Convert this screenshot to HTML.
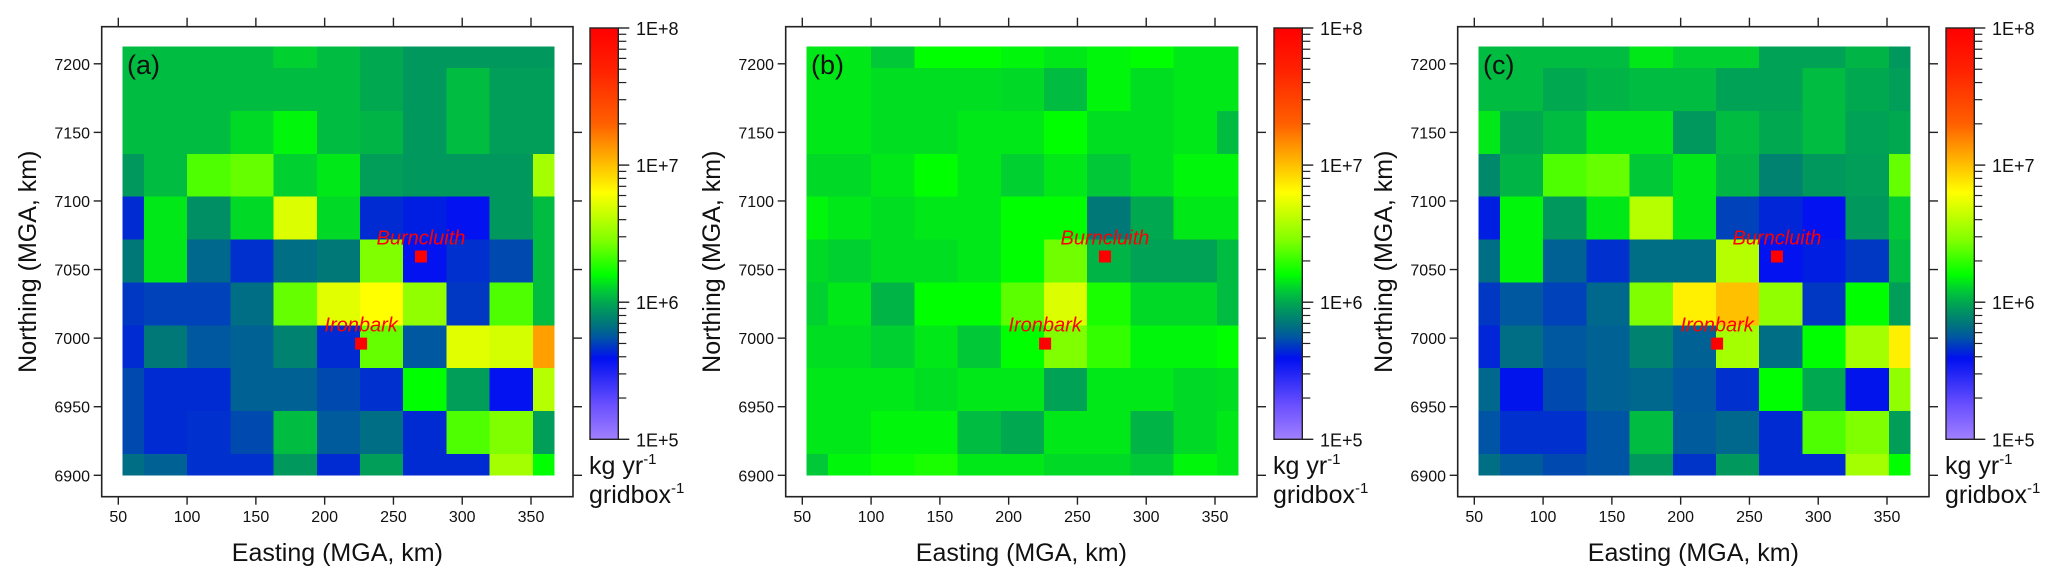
<!DOCTYPE html>
<html><head><meta charset="utf-8"><style>
html,body{margin:0;padding:0;background:#fff}
svg{display:block;font-family:"Liberation Sans",Arial,sans-serif}
</style></head><body>
<svg id="chart" width="2067" height="586" viewBox="0 0 2067 586" xmlns="http://www.w3.org/2000/svg">
<defs>
<linearGradient id="cbgrad" x1="0" y1="1" x2="0" y2="0"></linearGradient>
</defs>
</svg>
<script>
const panelLabels = ["(a)", "(b)", "(c)"];
const xTicks = [50, 100, 150, 200, 250, 300, 350];
const yTicks = [6900, 6950, 7000, 7050, 7100, 7150, 7200];
const cbTickLabels = ["1E+5", "1E+6", "1E+7", "1E+8"];
const cbDecades = [5, 6, 7, 8];
const colEastings = [53, 84.4, 115.8, 147.2, 178.6, 210, 241.4, 272.8, 304.2, 335.6, 367];
const rowNorthings = [7212.5, 7181.25, 7150, 7118.75, 7087.5, 7056.25, 7025, 6993.75, 6962.5, 6931.25, 6900];
const sites = ["Burncluith", "Ironbark"];
const siteEasting = [270, 226.5];
const siteNorthing = [7059.5, 6996];
// log10 emissions (kg/yr/gridbox), rows top->bottom, cols left->right
const gridA = [
[6.05,6.05,6.05,6.05,6.10,6.05,6.00,5.95,5.95,5.95,5.95],
[6.05,6.05,6.05,6.05,6.05,6.05,6.00,5.95,6.05,5.97,5.97],
[6.05,6.05,6.05,6.12,6.18,6.05,6.03,5.95,6.05,5.97,5.97],
[5.95,6.05,6.35,6.40,6.10,6.15,5.97,5.95,5.95,5.95,6.55],
[5.65,6.15,5.92,6.12,6.70,6.12,5.65,5.62,5.58,5.95,6.05],
[5.85,6.15,5.80,5.66,5.82,5.85,6.45,5.58,5.66,5.72,6.05],
[5.68,5.70,5.70,5.82,6.40,6.72,6.80,6.50,5.68,6.35,6.05],
[5.65,5.85,5.75,5.78,5.88,5.65,6.40,5.75,6.72,6.68,7.10],
[5.72,5.65,5.65,5.78,5.78,5.72,5.66,6.20,5.97,5.58,6.60],
[5.72,5.65,5.66,5.72,6.05,5.76,5.82,5.65,6.35,6.45,5.97],
[5.82,5.78,5.66,5.66,5.95,5.65,5.97,5.65,5.65,6.55,6.20]];
const gridB = [
[6.15,6.15,6.08,6.20,6.20,6.18,6.15,6.18,6.20,6.15,6.15],
[6.15,6.15,6.13,6.13,6.13,6.12,6.05,6.18,6.13,6.15,6.15],
[6.15,6.15,6.13,6.13,6.15,6.15,6.20,6.13,6.13,6.15,6.05],
[6.12,6.12,6.15,6.20,6.15,6.10,6.15,6.08,6.13,6.18,6.18],
[6.18,6.15,6.13,6.15,6.15,6.20,6.20,5.85,6.00,6.15,6.15],
[6.12,6.10,6.13,6.13,6.15,6.20,6.42,6.03,5.98,5.98,6.05],
[6.10,6.15,6.03,6.20,6.20,6.38,6.70,6.25,6.12,6.12,6.05],
[6.13,6.13,6.10,6.15,6.08,6.20,6.45,6.30,6.18,6.18,6.20],
[6.15,6.15,6.15,6.13,6.15,6.15,5.98,6.15,6.15,6.12,6.13],
[6.15,6.15,6.18,6.18,6.05,6.00,6.15,6.15,6.03,6.12,6.15],
[6.08,6.18,6.22,6.25,6.15,6.15,6.12,6.12,6.08,6.18,6.15]];
const gridC = [
[6.05,6.05,6.05,6.05,6.15,6.10,6.10,5.98,5.98,6.03,5.95],
[6.05,6.05,6.00,6.03,6.05,6.05,5.98,5.98,6.05,6.00,5.97],
[6.15,6.00,6.05,6.15,6.15,5.95,6.05,6.00,6.05,5.98,6.00],
[5.90,6.03,6.35,6.40,6.08,6.15,6.03,5.88,5.95,5.97,6.40],
[5.62,6.18,5.95,6.15,6.60,6.15,5.70,5.64,5.58,5.95,6.08],
[5.82,6.18,5.78,5.66,5.82,5.82,6.60,5.58,5.62,5.68,6.05],
[5.68,5.75,5.70,5.80,6.45,6.85,7.00,6.50,5.68,6.20,5.97],
[5.64,5.82,5.75,5.78,5.88,5.78,6.55,5.82,6.20,6.55,6.85],
[5.80,5.60,5.72,5.78,5.80,5.75,5.66,6.20,6.00,5.60,6.50],
[5.74,5.66,5.66,5.74,6.05,5.76,5.80,5.65,6.35,6.45,5.97],
[5.82,5.76,5.72,5.74,5.95,5.67,5.95,5.65,5.65,6.55,6.20]];
const grids = [gridA, gridB, gridC];

const NS = "http://www.w3.org/2000/svg";
const svg = document.getElementById("chart");
const offsets = [0, 684, 1356];
const cmapV = [5.0, 5.25, 5.59, 5.75, 5.85, 6.0, 6.1, 6.2, 6.45, 6.8, 7.0, 7.3, 7.7, 8.0];
const cmapC = ["#a080ff","#6a50ff","#0010f0","#0058a0","#007878","#00a850","#00d030","#00ff00","#80ff00","#ffff00","#ffc000","#ff6000","#ff2000","#ff0000"];
function hex(c){return [parseInt(c.substr(1,2),16),parseInt(c.substr(3,2),16),parseInt(c.substr(5,2),16)];}
function cmap(v){
  if(v<=cmapV[0]) return cmapC[0];
  for(let i=1;i<cmapV.length;i++){
    if(v<=cmapV[i]){
      const t=(v-cmapV[i-1])/(cmapV[i]-cmapV[i-1]);
      const a=hex(cmapC[i-1]), b=hex(cmapC[i]);
      return "rgb("+a.map((x,k)=>Math.round(x+(b[k]-x)*t)).join(",")+")";
    }
  }
  return cmapC[cmapC.length-1];
}
const grad = document.getElementById("cbgrad");
cmapV.forEach((v,i)=>{
  const s=document.createElementNS(NS,"stop");
  s.setAttribute("offset",((v-5)/3*100)+"%");
  s.setAttribute("stop-color",cmapC[i]);
  grad.appendChild(s);
});
function mk(tag, attrs, parent){
  const e=document.createElementNS(NS,tag);
  for(const k in attrs) e.setAttribute(k,attrs[k]);
  (parent||svg).appendChild(e); return e;
}
const X0=118.3, KX=1.3757, Y0=475.3, KY=1.3717;
const CW=31.4, CH=31.25;
const GX0=53, GX1=367, GY0=6900, GY1=7212.5;

grids.forEach((grid,p)=>{
  const off=offsets[p];
  const xs=km=>X0+(km-50)*KX+off;
  const ys=km=>Y0-(km-6900)*KY;
  const g=mk("g",{});
  
  
  const cells=mk("g",{"shape-rendering":"crispEdges"},g);
  
  
  grid.forEach((row,r)=>{
    row.forEach((v,c)=>{
      const e0=Math.max(GX0,colEastings[c]-CW/2), e1=Math.min(GX1,colEastings[c]+CW/2);
      const n0=Math.max(GY0,rowNorthings[r]-CH/2), n1=Math.min(GY1,rowNorthings[r]+CH/2);
      const rc=mk("rect",{x:xs(e0),y:ys(n1),width:xs(e1)-xs(e0)+0.3,height:ys(n0)-ys(n1)+0.3,fill:cmap(v)},cells);
      
      
    });
  });
  const L=101.7+off, R=573+off, T=26.7, B=496.7;
  const fr=mk("rect",{x:L,y:T,width:R-L,height:B-T,fill:"none",stroke:"#222","stroke-width":1.6},g);
  
  
  xTicks.forEach(t=>{
    const x=xs(t);
    mk("line",{x1:x,y1:B,x2:x,y2:B+8,stroke:"#222","stroke-width":1.4},g);
    mk("line",{x1:x,y1:T,x2:x,y2:T-9,stroke:"#222","stroke-width":1.4},g);
    const tx=mk("text",{x:x,y:522,"font-size":16,"text-anchor":"middle",fill:"#111"},g);
    tx.textContent=t;
    
    
  });
  yTicks.forEach(t=>{
    const y=ys(t);
    mk("line",{x1:L,y1:y,x2:L-8,y2:y,stroke:"#222","stroke-width":1.4},g);
    mk("line",{x1:R,y1:y,x2:R+9,y2:y,stroke:"#222","stroke-width":1.4},g);
    const tx=mk("text",{x:90+off,y:y+6,"font-size":16,"text-anchor":"end",fill:"#111"},g);
    tx.textContent=t;
    
    
  });
  const xt=mk("text",{x:(L+R)/2,y:561,"font-size":25,"text-anchor":"middle",fill:"#111"},g);
  xt.textContent="Easting (MGA, km)";
  
  
  const yt=mk("text",{x:0,y:0,"font-size":25,"text-anchor":"middle",fill:"#111",transform:"translate("+(36+off)+","+((T+B)/2)+") rotate(-90)"},g);
  yt.textContent="Northing (MGA, km)";
  
  
  const pl=mk("text",{x:127+off,y:74,"font-size":27,fill:"#111"},g);
  pl.textContent=panelLabels[p];
  
  
  sites.forEach((s,i)=>{
    const x=xs(siteEasting[i]), y=ys(siteNorthing[i]);
    const m=mk("rect",{x:x-6,y:y-6,width:12,height:12,fill:"#ff0000"},g);
    
    
    const lt=mk("text",{x:x,y:y-12,"font-size":20,"font-style":"italic","text-anchor":"middle",fill:"#ff0000"},g);
    lt.textContent=s;
    
    
  });
  const cbL=590+off, cbR=618.3+off, cbT=28, cbB=439.3;
  const cv=v=>cbB-(v-5)/3*(cbB-cbT);
  const cb=mk("rect",{x:cbL,y:cbT,width:cbR-cbL,height:cbB-cbT,fill:"url(#cbgrad)",stroke:"#222","stroke-width":1.4},g);
  
  
  for(let d=5; d<8; d++){
    for(let m=2;m<=9;m++){
      const y=cv(d+Math.log10(m));
      mk("line",{x1:cbR,y1:y,x2:cbR+8,y2:y,stroke:"#222","stroke-width":1.2},g);
    }
  }
  cbDecades.forEach((d,i)=>{
    const y=cv(d);
    mk("line",{x1:cbR,y1:y,x2:cbR+11,y2:y,stroke:"#222","stroke-width":1.4},g);
    const tx=mk("text",{x:636+off,y:y+7,"font-size":18,fill:"#111"},g);
    tx.textContent=cbTickLabels[i];
    
    
  });
  const u1=mk("text",{x:589+off,y:474,"font-size":25,fill:"#111"},g);
  u1.innerHTML='kg yr<tspan font-size="15" dy="-10">-1</tspan>';
  
  
  const u2=mk("text",{x:589+off,y:503,"font-size":25,fill:"#111"},g);
  u2.innerHTML='gridbox<tspan font-size="15" dy="-10">-1</tspan>';
  
  
});
</script>
</body></html>
